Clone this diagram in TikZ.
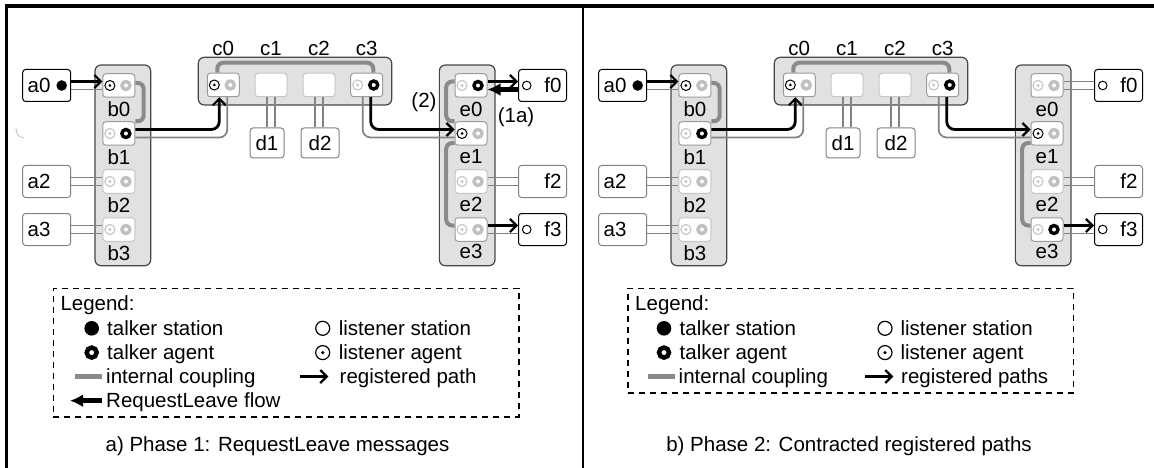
\documentclass[tikz,border=0pt]{standalone}
\usepackage{fontspec}
\setmainfont{Liberation Sans}
\usetikzlibrary{arrows.meta}
\pgfdeclarelayer{back}
\pgfdeclarelayer{mid}
\pgfsetlayers{back,mid,main}
\definecolor{contfill}{HTML}{E1E1E1}
\definecolor{contdraw}{HTML}{474747}
\definecolor{dgray}{HTML}{828282}
\definecolor{lgray}{HTML}{C0C0C0}
\definecolor{cgray}{HTML}{8A8A8A}
\definecolor{pgray}{HTML}{9C9C9C}
\definecolor{plgray}{HTML}{C6C6C6}
\tikzset{
  cont/.style={draw=contdraw, fill=contfill, rounded corners=6pt, line width=1.2pt, inner sep=0pt},
  outbox/.style={draw=black, fill=white, rounded corners=3pt, line width=1pt, minimum width=48pt, minimum height=32pt, inner sep=0pt},
  outgray/.style={outbox, draw=dgray},
  port/.style={draw=pgray, fill=white, rounded corners=3pt, line width=1pt, minimum width=32pt, minimum height=23.5pt, inner sep=0pt},
  portl/.style={port, draw=plgray},
  lbl/.style={inner sep=0pt},
  wire/.style={draw=dgray, line width=1.7pt},
  reg/.style={draw=black, line width=2.8pt, rounded corners=8pt, -{Straight Barb[length=6.5pt,width=13pt,line width=2.2pt]}},
  couple/.style={draw=cgray, line width=4pt, rounded corners=6pt},
  leave/.style={draw=black, line width=4.5pt, -{Latex[length=13pt,width=13pt]}},
  legbox/.style={draw=black, line width=1.6pt, dash pattern=on 6pt off 5pt, inner sep=0pt},
}
\newcommand\Port[6]{%
  \node[#4] (#1) at (#2,#3) {};
  \draw[#5,line width=1pt] ([xshift=-9pt]#1.center) circle[radius=5pt];
  \fill[#5] ([xshift=-9pt]#1.center) circle[radius=1.5pt];
  \draw[#6,line width=3.4pt,fill=white] ([xshift=7pt]#1.center) circle[radius=4pt];
}
\newcommand\Panel[6]{%
\begin{scope}[xshift=#2]
  \begin{pgfonlayer}{back}
    \node[cont, minimum width=55.7pt, minimum height=200.7pt] (#1B) at (122.85,165.35) {};
    \node[cont, minimum width=193.4pt, minimum height=47.7pt] (#1C) at (295,81.15) {};
    \node[cont, minimum width=55.7pt, minimum height=200.7pt] (#1E) at (467.2,165.35) {};
  \end{pgfonlayer}
  % stations a
  \node[outbox] (#1a0) at (46.7,85.5) {\makebox[38pt][l]{a0}};
  \fill ([xshift=15pt]#1a0.center) circle[radius=5.3pt];
  \node[outgray] (#1a2) at (46.7,181.5) {\makebox[38pt][l]{a2}};
  \node[outgray] (#1a3) at (46.7,229.5) {\makebox[38pt][l]{a3}};
  % bridge b
  \Port{#1b0}{118.9}{85.5}{port}{black}{lgray}
  \Port{#1b1}{118.9}{133.5}{port}{lgray}{black}
  \Port{#1b2}{118.9}{181.5}{portl}{lgray}{lgray}
  \Port{#1b3}{118.9}{229.5}{portl}{lgray}{lgray}
  \node[lbl] (#1lb0) at (118.9,109) {b0};
  \node[lbl] (#1lb1) at (118.9,157) {b1};
  \node[lbl] (#1lb2) at (118.9,205) {b2};
  \node[lbl] (#1lb3) at (118.9,253) {b3};
  % bridge c
  \Port{#1c0}{223.3}{85}{port}{black}{lgray}
  \node[portl] (#1c1) at (271,85) {};
  \node[portl] (#1c2) at (319,85) {};
  \Port{#1c3}{366.7}{85}{port}{lgray}{black}
  \node[lbl] (#1lc0) at (223.3,48.3) {c0};
  \node[lbl] (#1lc1) at (271,48.3) {c1};
  \node[lbl] (#1lc2) at (319,48.3) {c2};
  \node[lbl] (#1lc3) at (366.7,48.3) {c3};
  \node[outgray, minimum width=34pt, minimum height=30pt] (#1d1) at (267,143) {d1};
  \node[outgray, minimum width=38pt, minimum height=30pt] (#1d2) at (320,143) {d2};
  % bridge e
  \Port{#1e0}{471}{85.5}{port}{#3}{#4}
  \Port{#1e1}{471}{133.5}{port}{black}{lgray}
  \Port{#1e2}{471}{181.5}{portl}{lgray}{lgray}
  \Port{#1e3}{471}{229.5}{port}{#5}{#6}
  \node[lbl] (#1le0) at (471,109.5) {e0};
  \node[lbl] (#1le1) at (471,157) {e1};
  \node[lbl] (#1le2) at (471,204) {e2};
  \node[lbl] (#1le3) at (471,251) {e3};
  % stations f
  \node[outbox] (#1f0) at (542.5,85.5) {\makebox[38pt][r]{f0}};
  \draw[line width=1pt] ([xshift=-15.8pt]#1f0.center) circle[radius=4.3pt];
  \node[outgray] (#1f2) at (542.5,181.5) {\makebox[38pt][r]{f2}};
  \node[outbox] (#1f3) at (542.5,229.5) {\makebox[38pt][r]{f3}};
  \draw[line width=1pt] ([xshift=-15.8pt]#1f3.center) circle[radius=4.3pt];
  % internal couplings
  \begin{pgfonlayer}{mid}
    \draw[couple] ([yshift=2.5pt]#1b0.east) -- ++(8.3,0) |- (#1b1.north east);
    \draw[couple] ([xshift=-6pt]#1c0.north) -- ++(0,-10) -| ([xshift=6.6pt]#1c3.north);
    \draw[couple] ([yshift=-9.5pt]#1e1.west) -- ++(-8.3,0) |- ([yshift=4pt]#1e3.west);
  \end{pgfonlayer}
  % connections
  \draw[reg] ([yshift=4pt]#1a0.east) -- ([yshift=4pt]#1b0.west);
  \draw[wire] ([yshift=-4pt]#1a0.east) -- ([yshift=-4pt]#1b0.west);
  \draw[wire] ([yshift=4pt]#1a2.east) -- ([yshift=4pt]#1b2.west);
  \draw[wire] ([yshift=-4pt]#1a2.east) -- ([yshift=-4pt]#1b2.west);
  \draw[wire] ([yshift=4pt]#1a3.east) -- ([yshift=4pt]#1b3.west);
  \draw[wire] ([yshift=-4pt]#1a3.east) -- ([yshift=-4pt]#1b3.west);
  \draw[reg] ([yshift=4pt]#1b1.east) -| ([xshift=-4pt]#1c0.south);
  \draw[wire, rounded corners=8pt] ([yshift=-4pt]#1b1.east) -| ([xshift=4pt]#1c0.south);
  \draw[wire] ([xshift=-4pt]#1c1.south) -- ([xshift=-4pt]#1c1.south |- #1d1.north);
  \draw[wire] ([xshift=4pt]#1c1.south) -- ([xshift=4pt]#1c1.south |- #1d1.north);
  \draw[wire] ([xshift=-4pt]#1c2.south) -- ([xshift=-4pt]#1c2.south |- #1d2.north);
  \draw[wire] ([xshift=4pt]#1c2.south) -- ([xshift=4pt]#1c2.south |- #1d2.north);
  \draw[reg] ([xshift=4pt]#1c3.south) |- ([yshift=4pt]#1e1.west);
  \draw[wire, rounded corners=8pt] ([xshift=-4pt]#1c3.south) |- ([yshift=-4pt]#1e1.west);
  \draw[wire] ([yshift=4pt]#1e2.east) -- ([yshift=4pt]#1f2.west);
  \draw[wire] ([yshift=-4pt]#1e2.east) -- ([yshift=-4pt]#1f2.west);
  \draw[reg] ([yshift=4pt]#1e3.east) -- ([yshift=4pt]#1f3.west);
  \draw[wire] ([yshift=-4pt]#1e3.east) -- ([yshift=-4pt]#1f3.west);
\end{scope}}
\begin{document}
\begin{tikzpicture}[x=1pt,y=-1pt,font=\fontsize{20.5pt}{24pt}\selectfont]
\useasboundingbox (0,0) rectangle (1154,468);
% frame
\draw[line width=4pt] (5,6) -- (1154,6);
\draw[line width=3.4pt] (6.7,4) -- (6.7,468);
\draw[line width=1.5pt] (583,6) -- (583,468);

% ---------- left panel ----------
\Panel{L}{0pt}{lgray}{black}{lgray}{lgray}
\draw[reg] ([yshift=4pt]Le0.east) -- ([yshift=4pt]Lf0.west);
\draw[leave] ([yshift=-4pt]Lf0.west) -- ([yshift=-4pt]Le0.east);
\begin{pgfonlayer}{mid}
  \draw[couple] ([yshift=4pt]Le0.west) -- ++(-8.3,0) |- (Le1.north west);
\end{pgfonlayer}
\node[lbl] (L2) at (424,102.5) {(2)};
\node[lbl] (L1a) at (516,116.7) {(1a)};
\draw[lgray, line width=0.8pt] (16,128) .. controls (16,134) and (19,137.5) .. (23.5,137.7);

% legend a
\node[legbox, minimum width=465.7pt, minimum height=128.4pt] (legA) at (286.2,352.5) {};
\node[lbl, anchor=base west] (legAt) at (60.3,310.7) {Legend:};
\fill (91.7,328.3) circle[radius=7.3pt];
\node[lbl, anchor=base west] (legA1) at (107,335) {talker station};
\draw[line width=4.5pt, fill=white] (91.7,352.6) circle[radius=5pt];
\node[lbl, anchor=base west] (legA2) at (107,359.3) {talker agent};
\coordinate (legAc1) at (75,376.7);
\coordinate (legAc2) at (101.7,376.7);
\draw[cgray, line width=5pt] (legAc1) -- (legAc2);
\node[lbl, anchor=base west] (legA3) at (106,383.3) {internal coupling};
\coordinate (legAq1) at (101.7,400.7);
\coordinate (legAq2) at (70,400.7);
\draw[leave] (legAq1) -- (legAq2);
\node[lbl, anchor=base west] (legA4) at (106,407.3) {RequestLeave flow};
\draw[line width=1.2pt] (322.7,328.3) circle[radius=7pt];
\node[lbl, anchor=base west] (legA5) at (338.6,335) {listener station};
\draw[line width=1.2pt] (322.7,352.6) circle[radius=7pt];
\fill (322.7,352.6) circle[radius=1.8pt];
\node[lbl, anchor=base west] (legA6) at (338.6,359.3) {listener agent};
\coordinate (legAr1) at (300,376.5);
\coordinate (legAr2) at (328.3,376.5);
\draw[reg] (legAr1) -- (legAr2);
\node[lbl, anchor=base west] (legA7) at (339.5,383.3) {registered path};
\node[lbl, anchor=base] (capA) at (277.5,451) {a) Phase 1: RequestLeave messages};

% ---------- right panel ----------
\Panel{R}{576pt}{lgray}{lgray}{lgray}{black}
\draw[wire] ([yshift=4pt]Re0.east) -- ([yshift=4pt]Rf0.west);
\draw[wire] ([yshift=-4pt]Re0.east) -- ([yshift=-4pt]Rf0.west);

% legend b
\node[legbox, minimum width=445.6pt, minimum height=104.4pt] (legB) at (850.5,340.5) {};
\node[lbl, anchor=base west] (legBt) at (635,310.7) {Legend:};
\fill (664,328.3) circle[radius=7.3pt];
\node[lbl, anchor=base west] (legB1) at (679.5,335) {talker station};
\draw[line width=4.5pt, fill=white] (664,352.6) circle[radius=5pt];
\node[lbl, anchor=base west] (legB2) at (679.5,359.3) {talker agent};
\coordinate (legBc1) at (648.3,376.7);
\coordinate (legBc2) at (675,376.7);
\draw[cgray, line width=5pt] (legBc1) -- (legBc2);
\node[lbl, anchor=base west] (legB3) at (678.5,383.3) {internal coupling};
\draw[line width=1.2pt] (885,328.3) circle[radius=7pt];
\node[lbl, anchor=base west] (legB5) at (900.3,335) {listener station};
\draw[line width=1.2pt] (885,352.6) circle[radius=7pt];
\fill (885,352.6) circle[radius=1.8pt];
\node[lbl, anchor=base west] (legB6) at (900.3,359.3) {listener agent};
\coordinate (legBr1) at (865,376.5);
\coordinate (legBr2) at (893.3,376.5);
\draw[reg] (legBr1) -- (legBr2);
\node[lbl, anchor=base west] (legB7) at (901,383.3) {registered paths};
\node[lbl, anchor=base] (capB) at (849,451) {b) Phase 2: Contracted registered paths};
\end{tikzpicture}
\end{document}
